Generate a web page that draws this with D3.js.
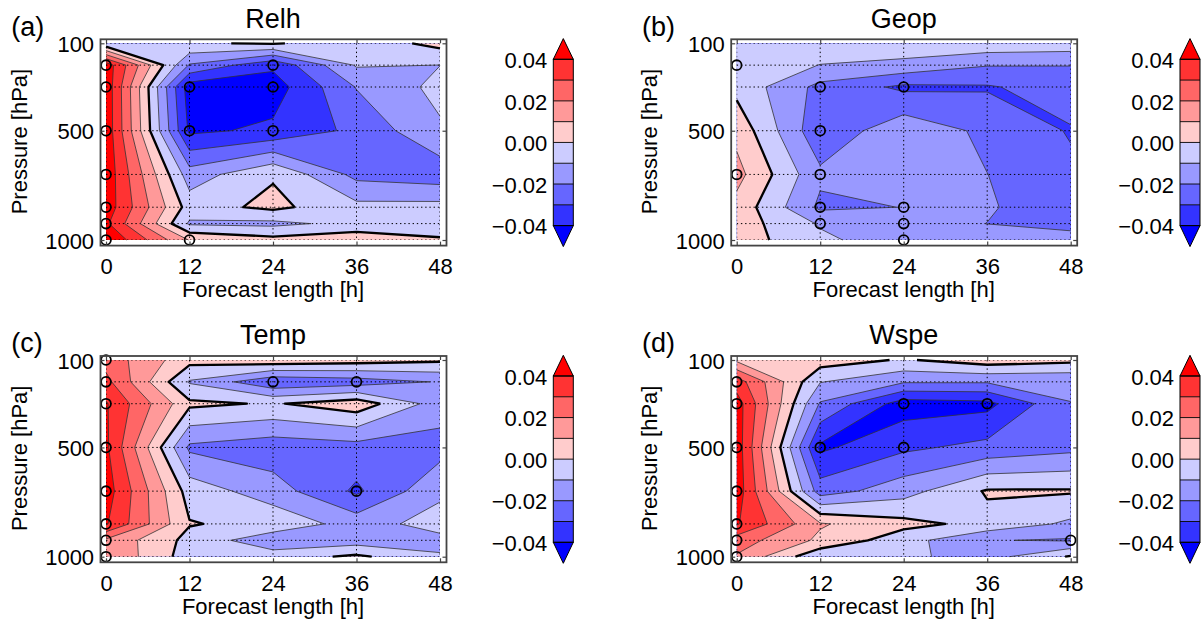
<!DOCTYPE html>
<html>
<head>
<meta charset="utf-8">
<script src="https://cdn.jsdelivr.net/npm/d3@7"></script>
<style>
  body { margin: 0; background: #fff; }
  svg { display: block; }
  text { font-family: "Liberation Sans", Arial, Helvetica, sans-serif; fill: #000; }
</style>
</head>
<body>
<svg id="fig" width="1203" height="621"></svg>
<script>
// Grid: forecast lengths (columns) and pressure levels (rows, top to bottom)
const hours = [0, 12, 24, 36, 48];
const pressures = [100, 200, 300, 500, 700, 850, 925, 1000];

// Contour levels and band colours (below -0.04 ... above 0.04)
const levels = [-0.04, -0.03, -0.02, -0.01, 0, 0.01, 0.02, 0.03, 0.04];
const bandColors = ["#0000ff", "#3333ff", "#6666ff", "#9999ff", "#ccccff",
                    "#ffcccc", "#ff9999", "#ff6666", "#ff3333", "#ff0000"];

const xTicks = [0, 12, 24, 36, 48];
const yTicks = [100, 500, 1000];
const cbarTicks = [0.04, 0.02, 0, -0.02, -0.04];

// Relative score differences, one row per pressure level
const relh = [
  [-0.008, -0.001,  0.001, -0.006,  0.003],
  [ 0.046, -0.021, -0.038, -0.009, -0.0101],
  [ 0.047, -0.0455,-0.045, -0.0195,-0.007],
  [ 0.047, -0.042, -0.038, -0.0275,-0.0115],
  [ 0.047, -0.0153,-0.001, -0.023, -0.026],
  [ 0.046, -0.0045, 0.0025,-0.0071,-0.0066],
  [ 0.042, -0.0115,-0.0125,-0.007, -0.005],
  [ 0.05,   0.0095, 0.0033, 0.007,  0.001]
];
const geop = [
  [-0.005, -0.005, -0.003, -0.003, -0.0042],
  [-0.004, -0.0102,-0.013, -0.0195,-0.0198],
  [-0.003, -0.023, -0.032, -0.031, -0.025],
  [ 0.007, -0.0275,-0.013, -0.0223,-0.0308],
  [ 0.0134,-0.018, -0.017, -0.0199,-0.028],
  [ 0.0067,-0.022, -0.0198,-0.019, -0.026],
  [ 0.0052,-0.011, -0.016, -0.0201,-0.025],
  [ 0.005, -0.0078,-0.016, -0.015, -0.0136]
];
const temp = [
  [ 0.026,  0.0034, 0.0066, 0.0044, 0.0017],
  [ 0.033, -0.011, -0.028, -0.025, -0.0193],
  [ 0.041,  0.0022,-0.001,  0.006, -0.015],
  [ 0.042, -0.022, -0.026, -0.024, -0.024],
  [ 0.045, -0.0044,-0.0153,-0.0318,-0.012],
  [ 0.041,  0.0006,-0.003, -0.0144,-0.006],
  [ 0.018, -0.0032,-0.017, -0.015, -0.013],
  [ 0.0195,-0.005, -0.005,  0.002, -0.009]
];
const wspe = [
  [ 0.008,  0.0049,-0.001,  0.0053, 0.0026],
  [ 0.035, -0.0095,-0.019, -0.019, -0.0191],
  [ 0.045, -0.021, -0.045, -0.043, -0.0201],
  [ 0.046, -0.042, -0.032, -0.027, -0.0229],
  [ 0.046, -0.025, -0.014,  0.001,  0.001],
  [ 0.041,  0.011,  0.003, -0.003, -0.012],
  [ 0.025,  0.008, -0.006, -0.0195,-0.021],
  [ 0.019, -0.008, -0.008, -0.014,  0.001]
];

// Significant points: [forecast hour, pressure]
const relhSig = [[0,200],[0,300],[0,500],[0,700],[0,850],[0,925],[0,1000],
                 [12,300],[12,500],[12,1000],[24,200],[24,300],[24,500]];
const geopSig = [[0,200],[0,700],[12,300],[12,500],[12,700],[12,850],[12,925],
                 [24,300],[24,850],[24,925],[24,1000]];
const tempSig = [[0,100],[0,200],[0,300],[0,500],[0,700],[0,850],[0,925],[0,1000],
                 [24,200],[36,200],[36,700]];
const wspeSig = [[0,200],[0,300],[0,500],[0,700],[0,850],[0,925],[0,1000],
                 [12,500],[24,300],[24,500],[36,300],[48,925]];

const panels = [
  { tag: "(a)", title: "Relh", values: relh, sig: relhSig, dx: 0,     dy: 0,     cbx: 553.3 },
  { tag: "(b)", title: "Geop", values: geop, sig: geopSig, dx: 630.7, dy: 0,     cbx: 1180 },
  { tag: "(c)", title: "Temp", values: temp, sig: tempSig, dx: 0,     dy: 316.7, cbx: 553.3 },
  { tag: "(d)", title: "Wspe", values: wspe, sig: wspeSig, dx: 630.7, dy: 316.7, cbx: 1180 }
];

const svg = d3.select("#fig");
const nx = hours.length, ny = pressures.length;
const frameColor = "#444";

function interpAxis(arr, u) {
  const i = Math.min(Math.floor(u), arr.length - 2);
  return arr[i] + (u - i) * (arr[i + 1] - arr[i]);
}

function drawPanel(p, idx) {
  const g = svg.append("g").attr("transform", `translate(${p.dx},${p.dy})`);
  const x = d3.scaleLinear().domain([0, 48]).range([106, 440]);
  const y = d3.scaleLinear().domain([100, 1000]).range([43.3, 240]);
  const fx0 = 100.5, fx1 = 446.5, fy0 = 39.3, fy1 = 245.6;

  // grid index space -> pixel space (piecewise linear along each axis)
  const toPx = ([gx, gy]) => {
    const ux = Math.max(0, Math.min(nx - 1, gx - 0.5));
    const uy = Math.max(0, Math.min(ny - 1, gy - 0.5));
    return [x(interpAxis(hours, ux)), y(interpAxis(pressures, uy)), ux, uy];
  };

  const clipId = "clip" + idx;
  g.append("clipPath").attr("id", clipId).append("rect")
    .attr("x", x(0)).attr("y", y(100))
    .attr("width", x(48) - x(0)).attr("height", y(1000) - y(100));

  const plot = g.append("g").attr("clip-path", `url(#${clipId})`);

  // lowest band as background
  plot.append("rect")
    .attr("x", x(0)).attr("y", y(100))
    .attr("width", x(48) - x(0)).attr("height", y(1000) - y(100))
    .attr("fill", bandColors[0]);

  const flat = p.values.flat();
  const contours = d3.contours().size([nx, ny]).thresholds(levels)(flat);

  contours.forEach((c, i) => {
    let d = "";
    c.coordinates.forEach(poly => poly.forEach(ring => {
      ring.forEach((pt, k) => {
        const q = toPx(pt);
        d += (k === 0 ? "M" : "L") + q[0].toFixed(2) + "," + q[1].toFixed(2);
      });
      d += "Z";
    }));
    if (d) plot.append("path").attr("d", d).attr("fill", bandColors[i + 1])
      .attr("fill-rule", "evenodd");
  });

  // dotted grid at every forecast length and pressure level
  const grid = plot.append("g").attr("stroke", "#000").attr("stroke-width", 1)
    .attr("stroke-dasharray", "1.4,2.8");
  hours.forEach(h => grid.append("line")
    .attr("x1", x(h)).attr("x2", x(h)).attr("y1", y(100)).attr("y2", y(1000)));
  pressures.forEach(pr => grid.append("line")
    .attr("x1", x(0)).attr("x2", x(48)).attr("y1", y(pr)).attr("y2", y(pr)));

  // contour lines (domain edges excluded)
  contours.forEach((c, i) => {
    let d = "";
    c.coordinates.forEach(poly => poly.forEach(ring => {
      let pen = false;
      for (let k = 0; k < ring.length - 1; k++) {
        const a = toPx(ring[k]), b = toPx(ring[k + 1]);
        const edge = (a[2] === 0 && b[2] === 0) || (a[2] === nx - 1 && b[2] === nx - 1) ||
                     (a[3] === 0 && b[3] === 0) || (a[3] === ny - 1 && b[3] === ny - 1);
        if (edge) { pen = false; continue; }
        if (!pen) { d += "M" + a[0].toFixed(2) + "," + a[1].toFixed(2); pen = true; }
        d += "L" + b[0].toFixed(2) + "," + b[1].toFixed(2);
      }
    }));
    const zero = levels[i] === 0;
    if (d) g.append("path").attr("d", d).attr("fill", "none")
      .attr("stroke", zero ? "#000" : "#333")
      .attr("stroke-width", zero ? 2.3 : 0.8)
      .attr("stroke-linejoin", "round");
  });

  // significance markers
  g.append("g").selectAll("circle").data(p.sig).join("circle")
    .attr("cx", d => x(d[0])).attr("cy", d => y(d[1])).attr("r", 4.9)
    .attr("fill", "none").attr("stroke", "#000").attr("stroke-width", 1.8);

  // frame
  g.append("rect").attr("x", fx0).attr("y", fy0)
    .attr("width", fx1 - fx0).attr("height", fy1 - fy0)
    .attr("fill", "none").attr("stroke", frameColor).attr("stroke-width", 1.8);

  const style = sel => {
    sel.select(".domain").remove();
    sel.selectAll(".tick line").attr("stroke", frameColor).attr("stroke-width", 1.2);
    sel.selectAll(".tick text").attr("font-size", 22).attr("fill", "#000");
  };
  g.append("g").attr("transform", `translate(0,${fy1})`)
    .call(d3.axisBottom(x).tickValues(xTicks).tickSize(-4).tickPadding(12.9))
    .call(style).attr("font-family", null).attr("font-size", null);
  g.append("g").attr("transform", `translate(0,${fy0})`)
    .call(d3.axisTop(x).tickValues(xTicks).tickSize(-4).tickFormat(""))
    .call(style);
  g.append("g").attr("transform", `translate(${fx0},0)`)
    .call(d3.axisLeft(y).tickValues(yTicks).tickFormat(d3.format("d"))
      .tickSize(-4).tickPadding(6.4))
    .call(style).attr("font-family", null).attr("font-size", null)
    .selectAll(".tick text").attr("dy", "0.37em");
  g.append("g").attr("transform", `translate(${fx1},0)`)
    .call(d3.axisRight(y).tickValues(yTicks).tickSize(-4).tickFormat(""))
    .call(style);

  // labels
  g.append("text").attr("x", 273).attr("y", 27.7).attr("text-anchor", "middle")
    .attr("font-size", 27).text(p.title);
  g.append("text").attr("x", 11.3).attr("y", 35.6).attr("font-size", 27).text(p.tag);
  g.append("text").attr("x", 273).attr("y", 297).attr("text-anchor", "middle")
    .attr("font-size", 22).text("Forecast length [h]");
  g.append("text").attr("transform", "translate(26.7,141.6) rotate(-90)")
    .attr("text-anchor", "middle").attr("font-size", 22).text("Pressure [hPa]");

  // colour bar
  const cb = d3.scaleLinear().domain([-0.04, 0.04]).range([225.6, 59.3]);
  const cbg = svg.append("g").attr("transform", `translate(0,${p.dy})`);
  const bx0 = p.cbx, bx1 = p.cbx + 20, bxc = p.cbx + 10;
  for (let i = 0; i < levels.length - 1; i++) {
    cbg.append("rect").attr("x", bx0).attr("y", cb(levels[i + 1]))
      .attr("width", 20).attr("height", cb(levels[i]) - cb(levels[i + 1]))
      .attr("fill", bandColors[i + 1]);
  }
  cbg.append("path")
    .attr("d", `M${bx0},${cb(0.04)}L${bxc},38.6L${bx1},${cb(0.04)}Z`)
    .attr("fill", bandColors[9]).attr("stroke", "#000").attr("stroke-width", 1);
  cbg.append("path")
    .attr("d", `M${bx0},${cb(-0.04)}L${bxc},246.6L${bx1},${cb(-0.04)}Z`)
    .attr("fill", bandColors[0]).attr("stroke", "#000").attr("stroke-width", 1);
  levels.slice(1, -1).forEach(v => cbg.append("line")
    .attr("x1", bx0).attr("x2", bx1).attr("y1", cb(v)).attr("y2", cb(v))
    .attr("stroke", "#000").attr("stroke-width", 0.9));
  cbg.append("rect").attr("x", bx0).attr("y", cb(0.04))
    .attr("width", 20).attr("height", cb(-0.04) - cb(0.04))
    .attr("fill", "none").attr("stroke", "#000").attr("stroke-width", 1);
  cbg.append("g").attr("transform", `translate(${bx0},0)`)
    .call(d3.axisLeft(cb).tickValues(cbarTicks).tickFormat(d3.format(".2f"))
      .tickSize(0).tickPadding(6))
    .call(s => {
      s.select(".domain").remove();
      s.selectAll(".tick text").attr("font-size", 22).attr("fill", "#000").attr("dy", "0.37em");
    })
    .attr("font-family", null).attr("font-size", null);
}

panels.forEach(drawPanel);
</script>
</body>
</html>
